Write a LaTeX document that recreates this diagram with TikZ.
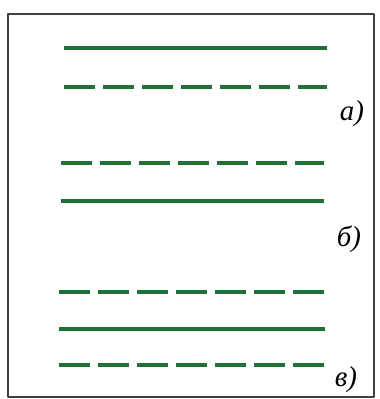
\documentclass[tikz,border=0pt]{standalone}
\usepackage{fontspec}
\setmainfont{Liberation Serif}
\definecolor{lineGreen}{RGB}{32,112,56}
\tikzset{
  fullLine/.style={draw=lineGreen,line width=4.5bp},
  dashLine/.style={draw=lineGreen,line width=4.5bp,dash pattern=on 31bp off 8bp},
  caseLabel/.style={font=\itshape\fontsize{29}{29}\selectfont,inner sep=0bp},
}
\begin{document}
\begin{tikzpicture}[x=1bp,y=-1bp,line join=bevel,]
    %%
    \useasboundingbox (0,0) rectangle (380,399);
    \draw [black!75,line width=1.5bp] (8,14) rectangle (374,397);
    %% case a
    \coordinate (a1l) at (64,48);  \coordinate (a1r) at (327,48);
    \coordinate (a2l) at (64,87);  \coordinate (a2r) at (327,87);
    \node (a) at (352,114) [caseLabel] {а)};
    \draw [fullLine] (a1l) -- (a1r);
    \draw [dashLine] (a2l) -- (a2r);
    %% case b
    \coordinate (b1l) at (61,163); \coordinate (b1r) at (324,163);
    \coordinate (b2l) at (61,201); \coordinate (b2r) at (324,201);
    \node (b) at (349,239) [caseLabel] {б)};
    \draw [dashLine] (b1l) -- (b1r);
    \draw [fullLine] (b2l) -- (b2r);
    %% case c
    \coordinate (c1l) at (59,292); \coordinate (c1r) at (325,292);
    \coordinate (c2l) at (59,329); \coordinate (c2r) at (325,329);
    \coordinate (c3l) at (59,365); \coordinate (c3r) at (325,365);
    \node (c) at (346,380) [caseLabel] {в)};
    \draw [dashLine] (c1l) -- (c1r);
    \draw [fullLine] (c2l) -- (c2r);
    \draw [dashLine] (c3l) -- (c3r);
    %
\end{tikzpicture}
\end{document}
